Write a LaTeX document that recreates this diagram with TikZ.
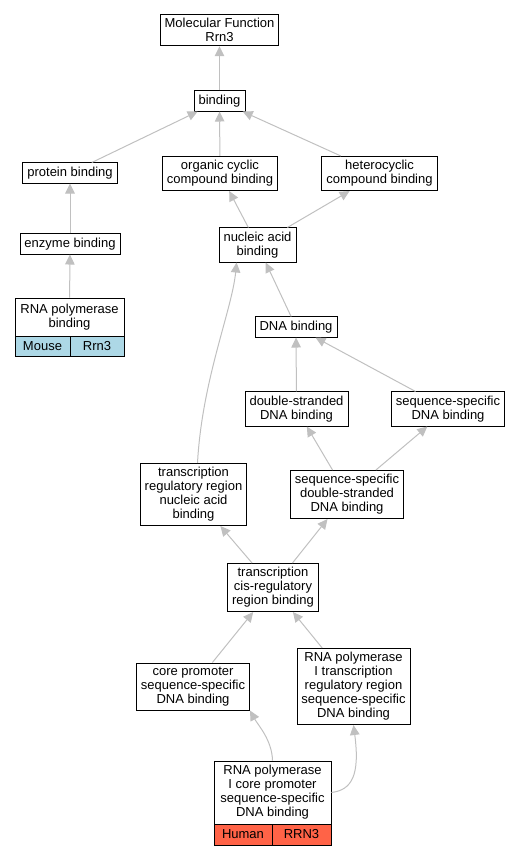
\documentclass[tikz,border=0pt]{standalone}
\usepackage{fontspec}
\setmainfont{Liberation Sans}
\usetikzlibrary{arrows.meta}
\definecolor{mouseblue}{HTML}{ADD8E6}
\definecolor{humanred}{HTML}{FF6347}
\definecolor{linkgray}{HTML}{C0C0C0}
\begin{document}
\begin{tikzpicture}[
    x=1pt, y=-1pt,
    every node/.style={draw, rectangle, line width=0.9pt, fill=white, align=center,
        inner xsep=4.5pt, inner ysep=4pt, font=\fontsize{13}{14}\selectfont},
    link/.style={draw=linkgray, line width=1pt, -{Triangle[length=10pt, width=9.5pt]}},
    cell/.style={minimum height=20pt, inner ysep=0pt}
]
\useasboundingbox (0,0) rectangle (524,856);
% terms
\node (mf)      at (219.5,30)  {Molecular Function\\Rrn3};
\node (bind)    at (219.5,101) {binding};
\node (prot)    at (70,173)    {protein binding};
\node (orgcyc)  at (220,173.5) {organic cyclic\\compound binding};
\node (hetcyc)  at (379.5,173.5) {heterocyclic\\compound binding};
\node (enz)     at (70,244)    {enzyme binding};
\node (nucl)    at (257.5,245) {nucleic acid\\binding};
\node[minimum width=109pt, minimum height=38pt] (rnapolb) at (69.5,317) {RNA polymerase\\binding};
\node[cell, fill=mouseblue, minimum width=55pt] (rnapolbA) at (42.5,346) {Mouse};
\node[cell, fill=mouseblue, minimum width=54pt] (rnapolbB) at (97,346) {Rrn3};
\node (dna)     at (296,327)   {DNA binding};
\node (dsdna)   at (296.5,409) {double-stranded\\DNA binding};
\node (ssdna)   at (448,409)   {sequence-specific\\DNA binding};
\node (trreg)   at (193.5,494.5) {transcription\\regulatory region\\nucleic acid\\binding};
\node (ssds)    at (347,494.5) {sequence-specific\\double-stranded\\DNA binding};
\node (cisreg)  at (273,587.5) {transcription\\cis-regulatory\\region binding};
\node (core)    at (193,686.5) {core promoter\\sequence-specific\\DNA binding};
\node (poltr)   at (353.5,686.5) {RNA polymerase\\I transcription\\regulatory region\\sequence-specific\\DNA binding};
\node[minimum width=117pt, minimum height=63pt] (polcore) at (272.5,792.5) {RNA polymerase\\I core promoter\\sequence-specific\\DNA binding};
\node[cell, fill=humanred, minimum width=58pt, minimum height=21pt] (polcoreA) at (243,834.5) {Human};
\node[cell, fill=humanred, minimum width=59pt, minimum height=21pt] (polcoreB) at (301.5,834.5) {RRN3};
% is_a links
\draw[link] (bind) -- (mf);
\draw[link] (prot) -- (bind);
\draw[link] (orgcyc) -- (bind);
\draw[link] (hetcyc) -- (bind);
\draw[link] (enz) -- (prot);
\draw[link] (nucl) -- (orgcyc);
\draw[link] (nucl) -- (hetcyc);
\draw[link] (rnapolb) -- (enz);
\draw[link] (dna) -- (nucl);
\draw[link] (dsdna) -- (dna);
\draw[link] (ssdna) -- (dna);
\draw[link] ([xshift=4pt]trreg.north) .. controls (202,380) and (232,310) .. ([xshift=18pt]nucl.south west);
\draw[link] (ssds) -- (dsdna);
\draw[link] (ssds) -- (ssdna);
\draw[link] (cisreg) -- (trreg);
\draw[link] (cisreg) -- (ssds);
\draw[link] (core) -- (cisreg);
\draw[link] (poltr) -- (cisreg);
\draw[link] (polcore.north) .. controls (272,740) and (258,725) .. (core.south east);
\draw[link] (polcore.east) .. controls (352,790) and (360,775) .. (poltr.south);
\end{tikzpicture}
\end{document}
